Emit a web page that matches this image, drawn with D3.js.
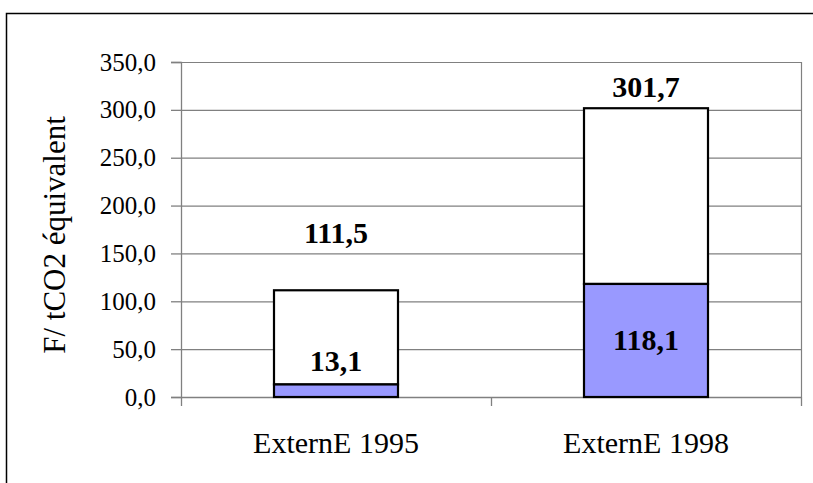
<!DOCTYPE html>
<html>
<head>
<meta charset="utf-8">
<script src="https://cdn.jsdelivr.net/npm/d3@7"></script>
<style>
  body { margin: 0; background: #fff; }
  text { font-family: "Liberation Serif", "Times New Roman", serif; }
</style>
</head>
<body>
<div id="chart"></div>
<script>
// data
let categories = ['ExternE 1995', 'ExternE 1998']
let lowerValues = [13.1, 118.1]    // blue part
let totalValues = [111.5, 301.7]   // top of the white part
let yTicks = [0, 50, 100, 150, 200, 250, 300, 350]
// where the labels sit, in data units
let totalLabelPos = [171, 324]
let lowerLabelPos = [37, 59.5]

let width = 813, height = 483
let plot = { left: 181, right: 801, top: 62, bottom: 397 }

let svg = d3.select('#chart').append('svg')
  .attr('width', width)
  .attr('height', height)

// outer frame
svg.append('rect')
  .attr('x', 6.5).attr('y', 13.5)
  .attr('width', 830).attr('height', 500)
  .attr('fill', 'none')
  .attr('stroke', '#000')
  .attr('stroke-width', 1.5)

let x = d3.scaleBand()
  .domain(categories)
  .range([plot.left, plot.right])

let y = d3.scaleLinear()
  .domain([0, 350])
  .range([plot.bottom, plot.top])

let fmt = v => d3.format('.1f')(v).replace('.', ',')

// gridlines
svg.append('g')
  .selectAll('line')
  .data(yTicks.filter(d => d > 0))
  .join('line')
  .attr('x1', plot.left).attr('x2', plot.right)
  .attr('y1', d => y(d) + 0.5).attr('y2', d => y(d) + 0.5)
  .attr('stroke', '#808080')
  .attr('stroke-width', 1.2)

// right edge of plot area
svg.append('line')
  .attr('x1', plot.right + 0.5).attr('x2', plot.right + 0.5)
  .attr('y1', plot.top).attr('y2', plot.bottom)
  .attr('stroke', '#808080')
  .attr('stroke-width', 1.2)

// y axis
let yAxis = svg.append('g')
  .attr('transform', `translate(${plot.left},0)`)
  .call(d3.axisLeft(y).tickValues(yTicks).tickFormat(fmt).tickSize(10).tickPadding(15))
yAxis.attr('font-family', null).attr('font-size', null)
yAxis.select('.domain').attr('stroke', '#808080').attr('stroke-width', 1.3)
yAxis.selectAll('.tick line').attr('stroke', '#808080').attr('stroke-width', 1.3)
yAxis.selectAll('.tick text')
  .attr('font-size', 25)
  .attr('fill', '#000')

// x axis
let xAxis = svg.append('g')
  .attr('transform', `translate(0,${plot.bottom})`)
  .call(d3.axisBottom(x).tickSize(0).tickPadding(35))
xAxis.attr('font-family', null).attr('font-size', null)
xAxis.select('.domain').attr('stroke', '#808080').attr('stroke-width', 1.3)
xAxis.selectAll('.tick text')
  .attr('font-size', 30)
  .attr('fill', '#000')
// category separator ticks
svg.append('g')
  .selectAll('line')
  .data([plot.left, x(categories[1]), plot.right])
  .join('line')
  .attr('x1', d => d + 0.5).attr('x2', d => d + 0.5)
  .attr('y1', plot.bottom).attr('y2', plot.bottom + 9)
  .attr('stroke', '#808080')
  .attr('stroke-width', 1.3)

// bars
let barW = x.bandwidth() * 0.4
let barX = d => x(d) + (x.bandwidth() - barW) / 2

svg.append('g')
  .selectAll('rect')
  .data(categories)
  .join('rect')
  .attr('x', barX)
  .attr('width', barW)
  .attr('y', (d, i) => y(totalValues[i]))
  .attr('height', (d, i) => y(lowerValues[i]) - y(totalValues[i]))
  .attr('fill', '#fff')
  .attr('stroke', '#000')
  .attr('stroke-width', 2.2)

svg.append('g')
  .selectAll('rect')
  .data(categories)
  .join('rect')
  .attr('x', barX)
  .attr('width', barW)
  .attr('y', (d, i) => y(lowerValues[i]))
  .attr('height', (d, i) => y(0) - y(lowerValues[i]))
  .attr('fill', '#9999ff')
  .attr('stroke', '#000')
  .attr('stroke-width', 2.2)

// value labels
svg.append('g')
  .selectAll('text')
  .data(categories)
  .join('text')
  .attr('x', d => x(d) + x.bandwidth() / 2)
  .attr('y', (d, i) => y(totalLabelPos[i]))
  .attr('dy', '0.33em')
  .attr('text-anchor', 'middle')
  .attr('font-size', 30)
  .attr('font-weight', 'bold')
  .text((d, i) => fmt(totalValues[i]))

svg.append('g')
  .selectAll('text')
  .data(categories)
  .join('text')
  .attr('x', d => x(d) + x.bandwidth() / 2)
  .attr('y', (d, i) => y(lowerLabelPos[i]))
  .attr('dy', '0.33em')
  .attr('text-anchor', 'middle')
  .attr('font-size', 30)
  .attr('font-weight', 'bold')
  .text((d, i) => fmt(lowerValues[i]))

// y axis title
svg.append('text')
  .attr('transform', 'translate(65,235) rotate(-90)')
  .attr('text-anchor', 'middle')
  .attr('font-size', 31)
  .text('F/ tCO2 équivalent')
</script>
</body>
</html>
